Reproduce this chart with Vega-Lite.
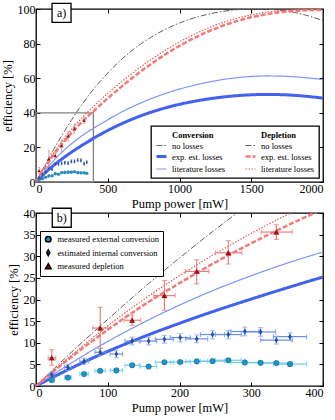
{
"$schema": "https://vega.github.io/schema/vega-lite/v6.json",
"padding": {"left": 0, "top": 0, "right": 0, "bottom": 0},
"spacing": -6,
"config": {
  "font": "Liberation Serif",
  "view": {"stroke": "black", "strokeWidth": 1.3},
  "axis": {"grid": false, "domain": false, "tickSize": -4, "tickColor": "black", "tickWidth": 1, "labelFontSize": 12, "titleFontSize": 12.5, "labelColor": "black", "titleColor": "black", "titleFontWeight": "normal", "labelPadding": 5, "titlePadding": 3, "format": "d"}
},
"resolve": {"scale": {"color": "independent", "strokeDash": "independent", "strokeWidth": "independent", "fill": "independent", "shape": "independent"}},
"datasets": {
"curves": [
{"s":"c0","P":0,"e":0},{"s":"c0","P":50,"e":7.9},{"s":"c0","P":100,"e":15.4},{"s":"c0","P":150,"e":22.7},{"s":"c0","P":200,"e":29.6},{"s":"c0","P":250,"e":36.2},{"s":"c0","P":300,"e":42.4},{"s":"c0","P":350,"e":48.2},{"s":"c0","P":400,"e":53.6},{"s":"c0","P":500,"e":63},{"s":"c0","P":600,"e":71.2},{"s":"c0","P":700,"e":78},{"s":"c0","P":800,"e":83.6},{"s":"c0","P":900,"e":88.2},{"s":"c0","P":1000,"e":91.9},{"s":"c0","P":1100,"e":94.8},{"s":"c0","P":1200,"e":97},{"s":"c0","P":1300,"e":98.6},{"s":"c0","P":1400,"e":99.6},{"s":"c0","P":1500,"e":100},{"s":"c0","P":1600,"e":99.9},{"s":"c0","P":1700,"e":99.3},{"s":"c0","P":1800,"e":98},{"s":"c0","P":1900,"e":96},{"s":"c0","P":2000,"e":93.3},
{"s":"c1","P":0,"e":0},{"s":"c1","P":50,"e":4.2},{"s":"c1","P":100,"e":8},{"s":"c1","P":150,"e":11.4},{"s":"c1","P":200,"e":14.5},{"s":"c1","P":250,"e":17.4},{"s":"c1","P":300,"e":20.1},{"s":"c1","P":350,"e":22.7},{"s":"c1","P":400,"e":25.2},{"s":"c1","P":500,"e":29.8},{"s":"c1","P":600,"e":33.8},{"s":"c1","P":700,"e":37.3},{"s":"c1","P":800,"e":40.3},{"s":"c1","P":900,"e":42.8},{"s":"c1","P":1000,"e":44.9},{"s":"c1","P":1100,"e":46.6},{"s":"c1","P":1200,"e":48},{"s":"c1","P":1300,"e":49.1},{"s":"c1","P":1400,"e":49.9},{"s":"c1","P":1500,"e":50.4},{"s":"c1","P":1600,"e":50.6},{"s":"c1","P":1700,"e":50.5},{"s":"c1","P":1800,"e":50.1},{"s":"c1","P":1900,"e":49.4},{"s":"c1","P":2000,"e":48.5},
{"s":"c2","P":0,"e":0},{"s":"c2","P":50,"e":5.4},{"s":"c2","P":100,"e":10.3},{"s":"c2","P":150,"e":14.7},{"s":"c2","P":200,"e":18.7},{"s":"c2","P":250,"e":22.3},{"s":"c2","P":300,"e":25.5},{"s":"c2","P":350,"e":28.4},{"s":"c2","P":400,"e":31},{"s":"c2","P":500,"e":36},{"s":"c2","P":600,"e":40.6},{"s":"c2","P":700,"e":44.6},{"s":"c2","P":800,"e":48.1},{"s":"c2","P":900,"e":51.1},{"s":"c2","P":1000,"e":53.7},{"s":"c2","P":1100,"e":55.9},{"s":"c2","P":1200,"e":57.7},{"s":"c2","P":1300,"e":59.2},{"s":"c2","P":1400,"e":60.3},{"s":"c2","P":1500,"e":61},{"s":"c2","P":1600,"e":61.3},{"s":"c2","P":1700,"e":61.2},{"s":"c2","P":1800,"e":60.8},{"s":"c2","P":1900,"e":60.1},{"s":"c2","P":2000,"e":59.2},
{"s":"d1","P":0,"e":0},{"s":"d1","P":50,"e":6.8},{"s":"d1","P":100,"e":13},{"s":"d1","P":150,"e":18.7},{"s":"d1","P":200,"e":23.8},{"s":"d1","P":250,"e":28.6},{"s":"d1","P":300,"e":33},{"s":"d1","P":350,"e":37.1},{"s":"d1","P":400,"e":40.9},{"s":"d1","P":500,"e":48.4},{"s":"d1","P":600,"e":55.4},{"s":"d1","P":700,"e":62},{"s":"d1","P":800,"e":68.1},{"s":"d1","P":900,"e":73.7},{"s":"d1","P":1000,"e":78.7},{"s":"d1","P":1100,"e":83.1},{"s":"d1","P":1200,"e":87},{"s":"d1","P":1300,"e":90.3},{"s":"d1","P":1400,"e":93},{"s":"d1","P":1500,"e":95.2},{"s":"d1","P":1600,"e":96.9},{"s":"d1","P":1700,"e":98.1},{"s":"d1","P":1800,"e":98.9},{"s":"d1","P":1900,"e":99.3},{"s":"d1","P":2000,"e":99.5},
{"s":"d2","P":0,"e":0},{"s":"d2","P":50,"e":7.2},{"s":"d2","P":100,"e":13.9},{"s":"d2","P":150,"e":20},{"s":"d2","P":200,"e":25.5},{"s":"d2","P":250,"e":30.6},{"s":"d2","P":300,"e":35.3},{"s":"d2","P":350,"e":39.6},{"s":"d2","P":400,"e":43.6},{"s":"d2","P":500,"e":51.2},{"s":"d2","P":600,"e":58.2},{"s":"d2","P":700,"e":64.7},{"s":"d2","P":800,"e":70.7},{"s":"d2","P":900,"e":76.1},{"s":"d2","P":1000,"e":81},{"s":"d2","P":1100,"e":85.3},{"s":"d2","P":1200,"e":89},{"s":"d2","P":1300,"e":92.1},{"s":"d2","P":1400,"e":94.6},{"s":"d2","P":1500,"e":96.6},{"s":"d2","P":1600,"e":98.1},{"s":"d2","P":1700,"e":99.1},{"s":"d2","P":1800,"e":99.7},{"s":"d2","P":1900,"e":99.9},{"s":"d2","P":2000,"e":100}
],
"pts": [
{"k":"ext","P":22,"Plo":18.7,"Phi":25.3,"e":1.4,"elo":1.1,"ehi":1.7},
{"k":"ext","P":44.5,"Plo":39.8,"Phi":49.2,"e":1.95,"elo":1.65,"ehi":2.25},
{"k":"ext","P":67,"Plo":61,"Phi":73,"e":2.75,"elo":2.45,"ehi":3.05},
{"k":"ext","P":89.5,"Plo":82.1,"Phi":96.9,"e":3.5,"elo":3.2,"ehi":3.8},
{"k":"ext","P":112,"Plo":103.3,"Phi":120.7,"e":3.6,"elo":3.3,"ehi":3.9},
{"k":"ext","P":134,"Plo":124,"Phi":144,"e":4.8,"elo":4.5,"ehi":5.1},
{"k":"ext","P":157,"Plo":145.6,"Phi":168.4,"e":4.5,"elo":4.2,"ehi":4.8},
{"k":"ext","P":179,"Plo":166.3,"Phi":191.7,"e":5.5,"elo":5.2,"ehi":5.8},
{"k":"ext","P":201,"Plo":186.9,"Phi":215.1,"e":5.55,"elo":5.25,"ehi":5.85},
{"k":"ext","P":224,"Plo":208.6,"Phi":239.4,"e":5.7,"elo":5.4,"ehi":6.0},
{"k":"ext","P":246,"Plo":229.2,"Phi":262.8,"e":5.75,"elo":5.45,"ehi":6.05},
{"k":"ext","P":268,"Plo":249.9,"Phi":286.1,"e":5.95,"elo":5.65,"ehi":6.25},
{"k":"ext","P":291,"Plo":271.5,"Phi":310.5,"e":5.45,"elo":5.15,"ehi":5.75},
{"k":"ext","P":313,"Plo":292.2,"Phi":333.8,"e":5.35,"elo":5.05,"ehi":5.65},
{"k":"ext","P":335,"Plo":312.9,"Phi":357.1,"e":5.3,"elo":5.0,"ehi":5.6},
{"k":"ext","P":354,"Plo":330.8,"Phi":377.2,"e":5.05,"elo":4.75,"ehi":5.35},
{"k":"int","P":22,"Plo":18.7,"Phi":25.3,"e":2.6,"elo":2.0,"ehi":3.2},
{"k":"int","P":44.5,"Plo":39.8,"Phi":49.2,"e":4.3,"elo":3.6,"ehi":5.0},
{"k":"int","P":67,"Plo":61,"Phi":73,"e":5.7,"elo":5.0,"ehi":6.4},
{"k":"int","P":89.5,"Plo":82.1,"Phi":96.9,"e":7.8,"elo":7.0,"ehi":8.7},
{"k":"int","P":112,"Plo":103.3,"Phi":120.7,"e":7.4,"elo":6.6,"ehi":8.2},
{"k":"int","P":134,"Plo":124,"Phi":144,"e":10.4,"elo":9.5,"ehi":11.3},
{"k":"int","P":157,"Plo":145.6,"Phi":168.4,"e":10.4,"elo":9.5,"ehi":11.3},
{"k":"int","P":179,"Plo":166.3,"Phi":191.7,"e":10.8,"elo":9.9,"ehi":11.7},
{"k":"int","P":201,"Plo":186.9,"Phi":215.1,"e":11.2,"elo":10.2,"ehi":12.1},
{"k":"int","P":224,"Plo":208.6,"Phi":239.4,"e":10.9,"elo":10.0,"ehi":11.8},
{"k":"int","P":246,"Plo":229.2,"Phi":262.8,"e":11.9,"elo":10.9,"ehi":12.8},
{"k":"int","P":268,"Plo":249.9,"Phi":286.1,"e":11.9,"elo":10.9,"ehi":12.8},
{"k":"int","P":291,"Plo":271.5,"Phi":310.5,"e":12.6,"elo":11.6,"ehi":13.6},
{"k":"int","P":313,"Plo":292.2,"Phi":333.8,"e":12.5,"elo":11.5,"ehi":13.5},
{"k":"int","P":335,"Plo":312.9,"Phi":357.1,"e":10.6,"elo":9.7,"ehi":11.5},
{"k":"int","P":354,"Plo":330.8,"Phi":377.2,"e":11.4,"elo":10.5,"ehi":12.3},
{"k":"dep","P":22,"Plo":17,"Phi":27.5,"e":6.5,"elo":4.8,"ehi":8.4},
{"k":"dep","P":89.5,"Plo":79,"Phi":100,"e":13.4,"elo":8.7,"ehi":18.2},
{"k":"dep","P":134,"Plo":123,"Phi":146,"e":15.2,"elo":14.0,"ehi":16.4},
{"k":"dep","P":179,"Plo":164,"Phi":194,"e":20.9,"elo":17.5,"ehi":24.4},
{"k":"dep","P":224,"Plo":208,"Phi":241,"e":26.5,"elo":23.6,"ehi":29.2},
{"k":"dep","P":268,"Plo":250,"Phi":287,"e":30.8,"elo":28.2,"ehi":33.6},
{"k":"dep","P":335,"Plo":314,"Phi":357,"e":35.6,"elo":33.9,"ehi":37.3}
]
},
"vconcat": [
{
"width": 287, "height": 173,
"resolve": {"axis": {"x": "independent", "y": "independent"}},
"layer": [
{"data": {"values": [{"x1": 0, "x2": 400, "y1": 0, "y2": 40}]},
 "mark": {"type": "rect", "fill": "transparent", "stroke": "#808080", "strokeWidth": 1.3},
 "encoding": {"x": {"field": "x1", "type": "quantitative", "scale": {"domain": [0, 2000]}, "axis": null}, "x2": {"field": "x2"},
  "y": {"field": "y1", "type": "quantitative", "scale": {"domain": [0, 100]}, "axis": null}, "y2": {"field": "y2"}}},
{"data": {"name": "curves"},
 "mark": {"type": "line", "interpolate": "monotone", "clip": true},
 "encoding": {
  "x": {"field": "P", "type": "quantitative", "scale": {"domain": [0, 2000]}, "axis": {"title": "Pump power [mW]", "values": [0, 500, 1000, 1500, 2000]}},
  "y": {"field": "e", "type": "quantitative", "scale": {"domain": [0, 100]}, "axis": {"title": "efficiency [%]", "values": [0, 20, 40, 60, 80, 100]}},
  "color": {"field": "s", "type": "nominal", "scale": {"domain": ["hc","hd","c0","d0","c1","d1","c2","d2"], "range": ["transparent","transparent","#606060","#606060","#4262ee","#f47a7a","#8094f2","#ee5a5a"]},
   "legend": {"title": null, "columns": 2, "direction": "horizontal", "orient": "bottom-right", "offset": 4, "labelFontSize": 8.5, "symbolSize": 100, "labelOffset": 4, "columnPadding": 14, "rowPadding": 0, "padding": 4, "strokeColor": "black", "fillColor": "white",
    "labelExpr": "datum.value=='hc'?'Conversion':datum.value=='hd'?'Depletion':(datum.value=='c0'||datum.value=='d0')?'no losses':(datum.value=='c1'||datum.value=='d1')?'exp. est. losses':'literature losses'",
    "encode": {"labels": {"update": {"fontWeight": {"signal": "(datum.value=='hc'||datum.value=='hd')?'bold':'normal'"}}}, "legend": {"update": {"strokeWidth": {"value": 1.3}}}}}},
  "strokeDash": {"field": "s", "type": "nominal", "scale": {"domain": ["hc","hd","c0","d0","c1","d1","c2","d2"], "range": [[1,0],[1,0],[6,2,1.5,2],[6,2,1.5,2],[1,0],[5,2],[1,0],[1.5,1.5]]}},
  "strokeWidth": {"field": "s", "type": "nominal", "scale": {"type": "ordinal", "domain": ["hc","hd","c0","d0","c1","d1","c2","d2"], "range": [0,0,1,1,3,2.5,1.2,1.2]}}
 }},
{"data": {"name": "pts"}, "transform": [{"filter": "datum.k=='ext'"}],
 "mark": {"type": "errorbar", "color": "#6fcde8", "thickness": 0.8, "ticks": {"size": 2}},
 "encoding": {"x": {"field": "P", "type": "quantitative", "scale": {"domain": [0, 2000]}, "axis": null}, "y": {"field": "elo", "type": "quantitative", "scale": {"domain": [0, 100]}, "axis": null}, "y2": {"field": "ehi"}}},
{"data": {"name": "pts"}, "transform": [{"filter": "datum.k=='int'"}],
 "mark": {"type": "errorbar", "color": "#6b8fe6", "thickness": 0.8, "ticks": {"size": 2}},
 "encoding": {"x": {"field": "P", "type": "quantitative", "scale": {"domain": [0, 2000]}, "axis": null}, "y": {"field": "elo", "type": "quantitative", "scale": {"domain": [0, 100]}, "axis": null}, "y2": {"field": "ehi"}}},
{"data": {"name": "pts"}, "transform": [{"filter": "datum.k=='dep'"}],
 "mark": {"type": "errorbar", "color": "#e88080", "thickness": 0.8, "ticks": {"size": 2}},
 "encoding": {"x": {"field": "P", "type": "quantitative", "scale": {"domain": [0, 2000]}, "axis": null}, "y": {"field": "elo", "type": "quantitative", "scale": {"domain": [0, 100]}, "axis": null}, "y2": {"field": "ehi"}}},
{"data": {"name": "pts"},
 "mark": {"type": "point", "filled": true, "opacity": 1, "stroke": "black", "strokeOpacity": 0.3, "strokeWidth": 0.4},
 "encoding": {"x": {"field": "P", "type": "quantitative", "scale": {"domain": [0, 2000]}, "axis": null}, "y": {"field": "e", "type": "quantitative", "scale": {"domain": [0, 100]}, "axis": null},
  "fill": {"field": "k", "type": "nominal", "scale": {"domain": ["ext","int","dep"], "range": ["#1f93c8","#1c4fc0","#b00a0a"]}, "legend": null},
  "shape": {"field": "k", "type": "nominal", "scale": {"domain": ["ext","int","dep"], "range": ["circle","M0,-1L0.55,0L0,1L-0.55,0Z","triangle-up"]}, "legend": null},
  "size": {"value": 10}}},
{"data": {"values": [{"t": "a)", "P": 178, "e": 97.8}]},
 "mark": {"type": "point", "shape": "square", "size": 361, "filled": true, "fill": "white", "stroke": "black", "strokeWidth": 1.3, "opacity": 1},
 "encoding": {"x": {"field": "P", "type": "quantitative", "scale": {"domain": [0, 2000]}, "axis": null}, "y": {"field": "e", "type": "quantitative", "scale": {"domain": [0, 100]}, "axis": null}}},
{"data": {"values": [{"t": "a)", "P": 178, "e": 97.8}]},
 "mark": {"type": "text", "fontSize": 12, "color": "black"},
 "encoding": {"x": {"field": "P", "type": "quantitative", "scale": {"domain": [0, 2000]}, "axis": null}, "y": {"field": "e", "type": "quantitative", "scale": {"domain": [0, 100]}, "axis": null}, "text": {"field": "t"}}},
{"data": {"values": [{"P": 0, "e": 0}]},
 "mark": {"type": "point", "opacity": 0},
 "encoding": {"x": {"field": "P", "type": "quantitative", "scale": {"domain": [0, 2000]}, "axis": {"orient": "top", "labels": false, "title": null, "values": [0, 500, 1000, 1500, 2000]}},
  "y": {"field": "e", "type": "quantitative", "scale": {"domain": [0, 100]}, "axis": {"orient": "right", "labels": false, "title": null, "values": [0, 20, 40, 60, 80, 100]}}}}
]
},
{
"width": 287, "height": 173,
"resolve": {"axis": {"x": "independent", "y": "independent"}},
"layer": [
{"data": {"name": "curves"}, "transform": [{"filter": "datum.P <= 500"}],
 "mark": {"type": "line", "interpolate": "monotone", "clip": true},
 "encoding": {
  "x": {"field": "P", "type": "quantitative", "scale": {"domain": [0, 400]}, "axis": {"title": "Pump power [mW]", "values": [0, 100, 200, 300, 400]}},
  "y": {"field": "e", "type": "quantitative", "scale": {"domain": [0, 40]}, "axis": {"title": "efficiency [%]", "values": [0, 5, 10, 15, 20, 25, 30, 35, 40]}},
  "color": {"field": "s", "type": "nominal", "scale": {"domain": ["hc","hd","c0","d0","c1","d1","c2","d2"], "range": ["transparent","transparent","#606060","#606060","#4262ee","#f47a7a","#8094f2","#ee5a5a"]}, "legend": null},
  "strokeDash": {"field": "s", "type": "nominal", "scale": {"domain": ["hc","hd","c0","d0","c1","d1","c2","d2"], "range": [[1,0],[1,0],[6,2,1.5,2],[6,2,1.5,2],[1,0],[5,2],[1,0],[1.5,1.5]]}, "legend": null},
  "strokeWidth": {"field": "s", "type": "nominal", "scale": {"type": "ordinal", "domain": ["hc","hd","c0","d0","c1","d1","c2","d2"], "range": [0,0,1,1,3,2.5,1.2,1.2]}, "legend": null}
 }},
{"data": {"name": "pts"}, "transform": [{"filter": "datum.k=='ext'"}],
 "mark": {"type": "errorbar", "color": "#6fcde8", "thickness": 1.2, "ticks": {"size": 5}},
 "encoding": {"y": {"field": "e", "type": "quantitative", "scale": {"domain": [0, 40]}, "axis": null}, "x": {"field": "Plo", "type": "quantitative", "scale": {"domain": [0, 400]}, "axis": null}, "x2": {"field": "Phi"}}},
{"data": {"name": "pts"}, "transform": [{"filter": "datum.k=='ext'"}],
 "mark": {"type": "errorbar", "color": "#6fcde8", "thickness": 1.2, "ticks": {"size": 5}},
 "encoding": {"x": {"field": "P", "type": "quantitative", "scale": {"domain": [0, 400]}, "axis": null}, "y": {"field": "elo", "type": "quantitative", "scale": {"domain": [0, 40]}, "axis": null}, "y2": {"field": "ehi"}}},
{"data": {"name": "pts"}, "transform": [{"filter": "datum.k=='int'"}],
 "mark": {"type": "errorbar", "color": "#6b8fe6", "thickness": 1.2, "ticks": {"size": 5}},
 "encoding": {"y": {"field": "e", "type": "quantitative", "scale": {"domain": [0, 40]}, "axis": null}, "x": {"field": "Plo", "type": "quantitative", "scale": {"domain": [0, 400]}, "axis": null}, "x2": {"field": "Phi"}}},
{"data": {"name": "pts"}, "transform": [{"filter": "datum.k=='int'"}],
 "mark": {"type": "errorbar", "color": "#8aa8ee", "thickness": 1.2, "ticks": {"size": 5}},
 "encoding": {"x": {"field": "P", "type": "quantitative", "scale": {"domain": [0, 400]}, "axis": null}, "y": {"field": "elo", "type": "quantitative", "scale": {"domain": [0, 40]}, "axis": null}, "y2": {"field": "ehi"}}},
{"data": {"name": "pts"}, "transform": [{"filter": "datum.k=='dep'"}],
 "mark": {"type": "errorbar", "color": "#e88080", "thickness": 1.2, "ticks": {"size": 5}},
 "encoding": {"y": {"field": "e", "type": "quantitative", "scale": {"domain": [0, 40]}, "axis": null}, "x": {"field": "Plo", "type": "quantitative", "scale": {"domain": [0, 400]}, "axis": null}, "x2": {"field": "Phi"}}},
{"data": {"name": "pts"}, "transform": [{"filter": "datum.k=='dep'"}],
 "mark": {"type": "errorbar", "color": "#e88080", "thickness": 1.2, "ticks": {"size": 5}},
 "encoding": {"x": {"field": "P", "type": "quantitative", "scale": {"domain": [0, 400]}, "axis": null}, "y": {"field": "elo", "type": "quantitative", "scale": {"domain": [0, 40]}, "axis": null}, "y2": {"field": "ehi"}}},
{"data": {"name": "pts"},
 "mark": {"type": "point", "filled": true, "opacity": 1, "stroke": "black", "strokeOpacity": 0.3, "strokeWidth": 0.6},
 "encoding": {"x": {"field": "P", "type": "quantitative", "scale": {"domain": [0, 400]}, "axis": null}, "y": {"field": "e", "type": "quantitative", "scale": {"domain": [0, 40]}, "axis": null},
  "fill": {"field": "k", "type": "nominal", "scale": {"domain": ["ext","int","dep"], "range": ["#1f93c8","#1c4fc0","#b00a0a"]},
   "legend": {"title": null, "orient": "none", "legendX": 4, "legendY": 18, "labelFontSize": 8.5, "symbolSize": 32, "rowPadding": 0.5, "padding": 4, "labelOffset": 5, "strokeColor": "black", "fillColor": "white",
    "labelExpr": "datum.value=='ext'?'measured external conversion':datum.value=='int'?'estimated internal conversion':'measured depletion'",
    "encode": {"legend": {"update": {"strokeWidth": {"value": 1.3}}}}}},
  "shape": {"field": "k", "type": "nominal", "scale": {"domain": ["ext","int","dep"], "range": ["circle","M0,-1L0.55,0L0,1L-0.55,0Z","triangle-up"]}},
  "size": {"value": 32}}},
{"data": {"values": [{"t": "b)", "P": 35.9, "e": 38.9}]},
 "mark": {"type": "point", "shape": "square", "size": 361, "filled": true, "fill": "white", "stroke": "black", "strokeWidth": 1.3, "opacity": 1},
 "encoding": {"x": {"field": "P", "type": "quantitative", "scale": {"domain": [0, 400]}, "axis": null}, "y": {"field": "e", "type": "quantitative", "scale": {"domain": [0, 40]}, "axis": null}}},
{"data": {"values": [{"t": "b)", "P": 35.9, "e": 38.9}]},
 "mark": {"type": "text", "fontSize": 12, "color": "black"},
 "encoding": {"x": {"field": "P", "type": "quantitative", "scale": {"domain": [0, 400]}, "axis": null}, "y": {"field": "e", "type": "quantitative", "scale": {"domain": [0, 40]}, "axis": null}, "text": {"field": "t"}}},
{"data": {"values": [{"P": 0, "e": 0}]},
 "mark": {"type": "point", "opacity": 0},
 "encoding": {"x": {"field": "P", "type": "quantitative", "scale": {"domain": [0, 400]}, "axis": {"orient": "top", "labels": false, "title": null, "values": [0, 100, 200, 300, 400]}},
  "y": {"field": "e", "type": "quantitative", "scale": {"domain": [0, 40]}, "axis": {"orient": "right", "labels": false, "title": null, "values": [0, 5, 10, 15, 20, 25, 30, 35, 40]}}}}
]
}
]
}
